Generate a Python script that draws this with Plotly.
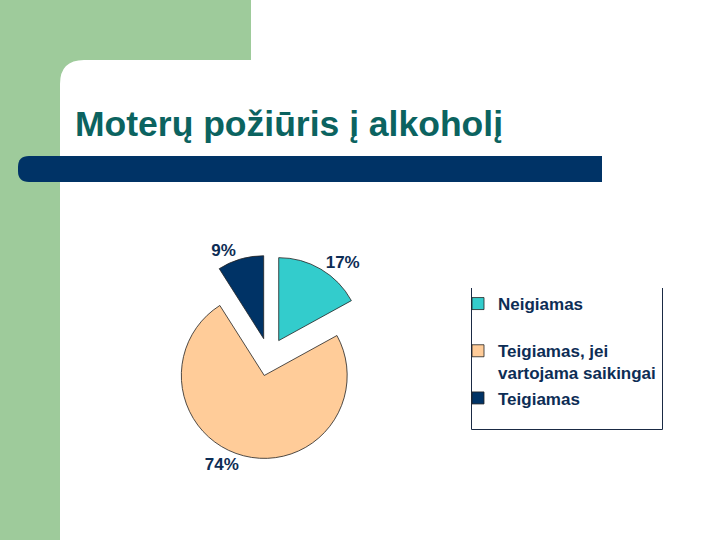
import plotly.graph_objects as go

# ---- data ----
categories = ["Neigiamas", "Teigiamas, jei vartojama saikingai", "Teigiamas"]
values = [17, 74, 9]
colors = ["#33CCCC", "#FFCC99", "#003366"]
legend_labels = ["Neigiamas<br> ", "Teigiamas, jei<br>vartojama saikingai", "Teigiamas"]
title_text = "Moterų požiūris į alkoholį"

W, H = 720, 540
def px(x):
    return x / W
def py(y):
    return 1 - y / H

FONT = "Arial, Liberation Sans, sans-serif"
NAVY_TXT = "#0D2D55"
GREEN = "#9ECB9B"

fig = go.Figure()
fig.add_trace(go.Pie(
    labels=legend_labels,
    values=values,
    sort=False,
    direction="clockwise",
    rotation=0,
    pull=[0.23, 0.23, 0.23],
    marker=dict(colors=colors, line=dict(color="#222222", width=0.8)),
    textposition="outside",
    texttemplate="<b>%{percent:.0%}</b>",
    textfont=dict(family=FONT, size=17, color=NAVY_TXT),
    domain=dict(x=[px(167), px(371)], y=[py(459), py(255)]),
    hoverinfo="label+percent",
))

shapes = []
# green L background
shapes.append(dict(type="rect", xref="paper", yref="paper", x0=0, x1=px(60), y0=0, y1=1,
                   fillcolor=GREEN, line=dict(width=0), layer="below"))
shapes.append(dict(type="rect", xref="paper", yref="paper", x0=0, x1=px(251), y0=py(60), y1=1,
                   fillcolor=GREEN, line=dict(width=0), layer="below"))
# rounded corner of white panel
r = 24
shapes.append(dict(type="path", xref="paper", yref="paper",
                   path=f"M {px(60)},{py(60)} L {px(60+r)},{py(60)} Q {px(60)},{py(60)} {px(60)},{py(60+r)} Z",
                   fillcolor=GREEN, line=dict(width=0), layer="below"))
# dark bar with rounded left end
x0b, x1b, y0b, y1b, rb = 18, 602, 156, 182, 11
bar_path = (f"M {px(x0b+rb)},{py(y0b)} L {px(x1b)},{py(y0b)} L {px(x1b)},{py(y1b)} "
            f"L {px(x0b+rb)},{py(y1b)} Q {px(x0b)},{py(y1b)} {px(x0b)},{py(y1b-rb)} "
            f"L {px(x0b)},{py(y0b+rb)} Q {px(x0b)},{py(y0b)} {px(x0b+rb)},{py(y0b)} Z")
shapes.append(dict(type="path", xref="paper", yref="paper", path=bar_path,
                   fillcolor="#003366", line=dict(width=0), layer="below"))
# legend box (left, right, bottom lines)
lc = dict(color="#1A2A44", width=1)
shapes.append(dict(type="line", xref="paper", yref="paper", x0=px(471.5), x1=px(471.5), y0=py(288), y1=py(429.5), line=lc))
shapes.append(dict(type="line", xref="paper", yref="paper", x0=px(662.5), x1=px(662.5), y0=py(288), y1=py(429.5), line=lc))
shapes.append(dict(type="line", xref="paper", yref="paper", x0=px(471.5), x1=px(662.5), y0=py(429.5), y1=py(429.5), line=lc))

fig.update_layout(
    width=W, height=H,
    margin=dict(l=0, r=0, t=0, b=0),
    paper_bgcolor="white",
    plot_bgcolor="white",
    shapes=shapes,
    showlegend=True,
    legend=dict(
        x=px(458), y=py(286), xanchor="left", yanchor="top",
        font=dict(family=FONT, size=17, color=NAVY_TXT, weight="bold"),
        valign="top", bgcolor="rgba(0,0,0,0)", borderwidth=0,
        tracegroupgap=0,
    ),
    annotations=[dict(
        text=title_text, xref="paper", yref="paper",
        x=px(73), y=py(124), xanchor="left", yanchor="middle",
        showarrow=False,
        font=dict(family=FONT, size=35.5, color="#0B6360", weight="bold"),
    )],
)

fig.write_html("out.html")
